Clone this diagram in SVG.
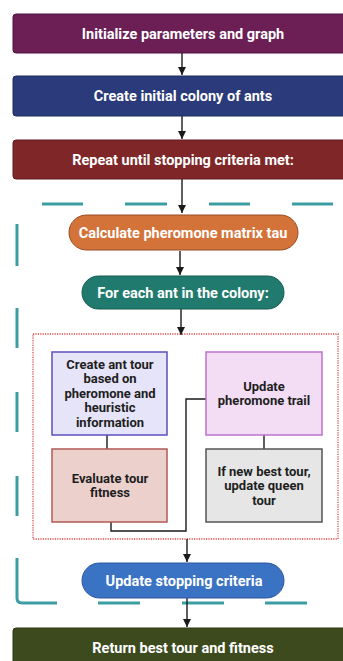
<svg xmlns="http://www.w3.org/2000/svg" width="343" height="661" viewBox="0 0 343 661">
<defs>
<marker id="arr" markerWidth="9" markerHeight="8" refX="8" refY="4" orient="auto" markerUnits="userSpaceOnUse">
<path d="M0,0 L8,4 L0,8 Z" fill="#1a1a1a"/>
</marker>
<style>
.t{font-family:Roboto,"Liberation Sans",sans-serif;font-weight:bold;text-anchor:middle}
.tw{fill:#ffffff;font-size:14.5px}
.td{fill:#1e1e1e;font-size:13px}
.conn{fill:none;stroke:#1a1a1a;stroke-width:1.4}
.dash{fill:none;stroke:#3b9ea3;stroke-width:3}
</style>
</defs>
<rect width="343" height="661" fill="#ffffff"/>

<g id="outer-loop">
<path class="dash" d="M42,204 H83 M125,204 H167 M209,204 H250 M292,204 H333 M17,224 V266 M17,308 V348 M17,392 V432 M17,476 V516 M17,558 V598 Q17,603 22,603 H57 M98,603 H140 M182,603 H224 M265,603 H307"/>
</g>
<g id="inner-loop">
<rect x="33" y="334" width="305" height="205" fill="none" stroke="#e04848" stroke-width="1.3" stroke-dasharray="1.2 1.2"/>
</g>

<g id="connectors">
<line class="conn" x1="182" y1="53" x2="182" y2="75" marker-end="url(#arr)"/>
<line class="conn" x1="182" y1="116" x2="182" y2="139" marker-end="url(#arr)"/>
<line class="conn" x1="182" y1="179" x2="182" y2="213" marker-end="url(#arr)"/>
<line class="conn" x1="180" y1="251" x2="180" y2="275" marker-end="url(#arr)"/>
<line class="conn" x1="181" y1="309" x2="181" y2="335" marker-end="url(#arr)"/>
<line class="conn" x1="107" y1="435" x2="107" y2="449"/>
<line class="conn" x1="264" y1="435" x2="264" y2="449"/>
<path class="conn" d="M111,522 V531 H186 V399 H206"/>
<line class="conn" x1="187" y1="539" x2="187" y2="562" marker-end="url(#arr)"/>
<line class="conn" x1="187" y1="598" x2="187" y2="627" marker-end="url(#arr)"/>
</g>

<g id="n1">
<rect x="13" y="14" width="340" height="39" rx="3" fill="#6b1f55" stroke="#4e1540"/>
<text class="t tw" x="183" y="38.5">Initialize parameters and graph</text>
</g>
<g id="n2">
<rect x="13" y="76" width="340" height="40" rx="3" fill="#2b3a7a" stroke="#1e2b5e"/>
<text class="t tw" x="183" y="101">Create initial colony of ants</text>
</g>
<g id="n3">
<rect x="13" y="140" width="340" height="39" rx="3" fill="#7e2628" stroke="#5e1a1c"/>
<text class="t tw" x="183" y="165">Repeat until stopping criteria met:</text>
</g>
<g id="n4">
<rect x="69" y="215" width="229" height="35" rx="17.5" fill="#d3733a" stroke="#9a4c22"/>
<text class="t tw" x="183" y="238">Calculate pheromone matrix tau</text>
</g>
<g id="n5">
<rect x="82" y="276" width="202" height="33" rx="16.5" fill="#207b6e" stroke="#145a50"/>
<text class="t tw" x="183" y="297.5">For each ant in the colony:</text>
</g>
<g id="n6">
<rect x="52" y="352" width="115" height="83" fill="#e6e4f8" stroke="#5a4fc0" stroke-width="1.5"/>
<text class="t td" x="110" y="368.5">Create ant tour</text>
<text class="t td" x="110" y="383">based on</text>
<text class="t td" x="110" y="397.5">pheromone and</text>
<text class="t td" x="110" y="412">heuristic</text>
<text class="t td" x="110" y="426.5">information</text>
</g>
<g id="n7">
<rect x="52" y="449" width="115" height="73" fill="#ecd0cc" stroke="#b05a55" stroke-width="1.5"/>
<text class="t td" x="110" y="482.5">Evaluate tour</text>
<text class="t td" x="110" y="497">fitness</text>
</g>
<g id="n8">
<rect x="206" y="352" width="116" height="83" fill="#f3ddf5" stroke="#c070d0" stroke-width="1.5"/>
<text class="t td" x="264" y="390.5">Update</text>
<text class="t td" x="264" y="405">pheromone trail</text>
</g>
<g id="n9">
<rect x="206" y="449" width="116" height="73" fill="#e6e6e6" stroke="#555555" stroke-width="1.5"/>
<text class="t td" x="264" y="475.5">If new best tour,</text>
<text class="t td" x="264" y="490">update queen</text>
<text class="t td" x="264" y="504.5">tour</text>
</g>
<g id="n10">
<rect x="82" y="563" width="202" height="35" rx="17.5" fill="#3b73c4" stroke="#2a56a0"/>
<text class="t tw" x="184" y="586">Update stopping criteria</text>
</g>
<g id="n11">
<rect x="13" y="628" width="340" height="45" rx="3" fill="#3d4a1e" stroke="#2c3614"/>
<text class="t tw" x="183" y="653">Return best tour and fitness</text>
</g>
</svg>
